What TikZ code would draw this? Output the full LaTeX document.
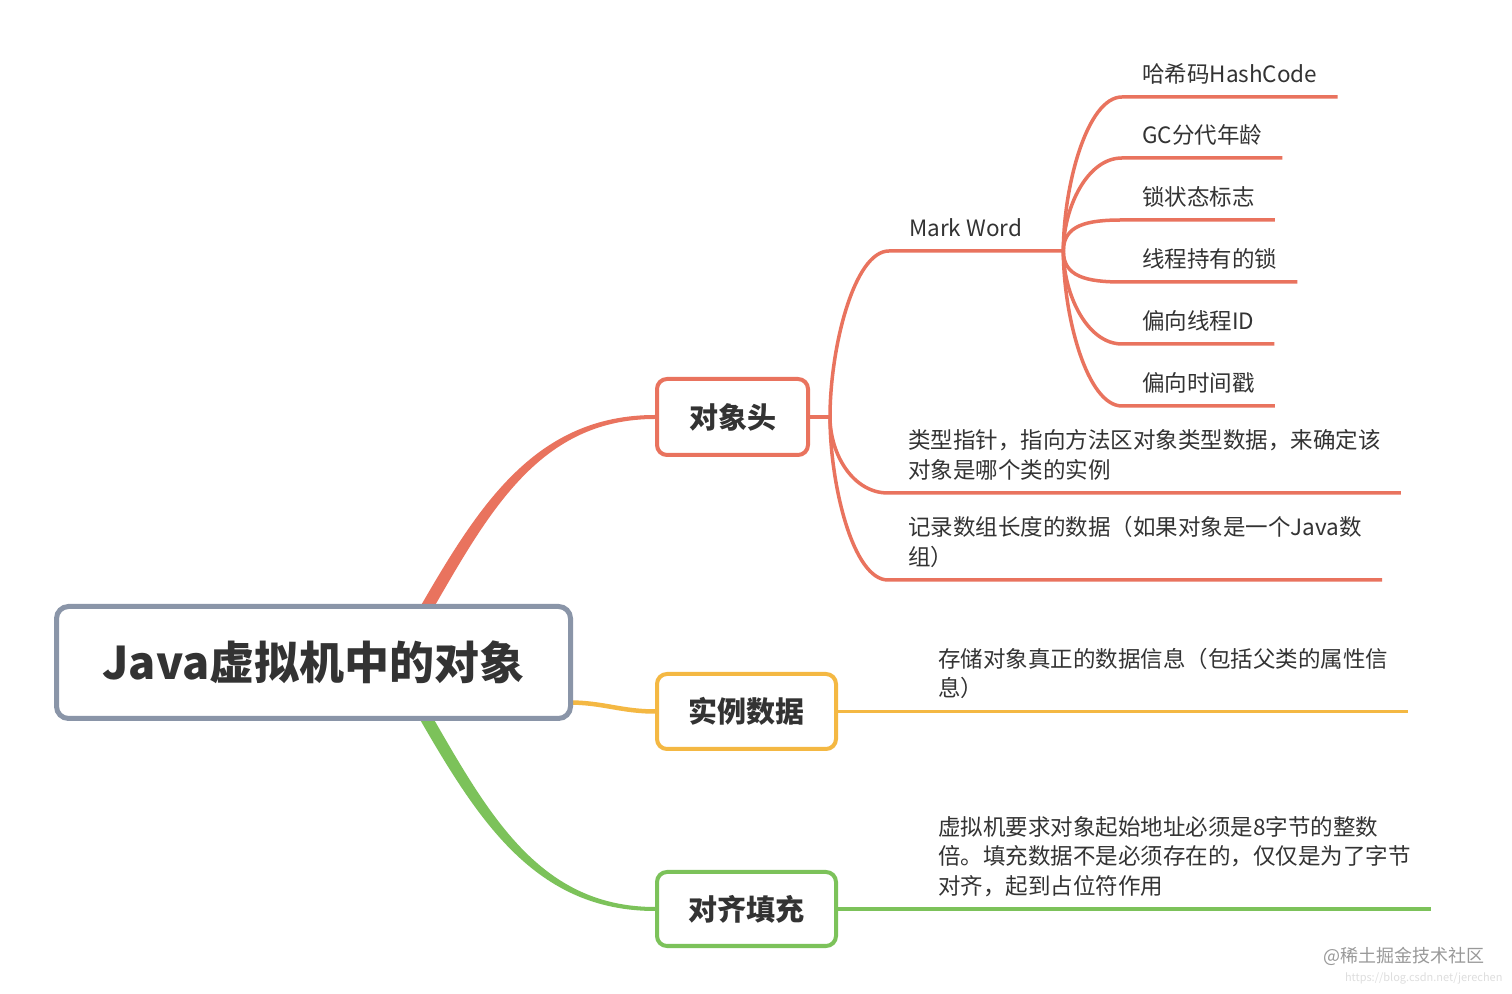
\documentclass[tikz,border=0pt]{standalone}
\usepackage{fontspec}
\setmainfont{Noto Sans CJK SC}
\definecolor{mmorange}{HTML}{E9735E}
\definecolor{mmyellow}{HTML}{F4B843}
\definecolor{mmgreen}{HTML}{7CC25A}
\definecolor{mmgray}{HTML}{8A95A8}
\definecolor{mmtext}{HTML}{333333}
\usetikzlibrary{positioning,backgrounds}

\begin{document}
\begin{tikzpicture}[
  x=1pt, y=1pt,
  topic/.style={draw=#1, fill=white, line width=4pt, rounded corners=10pt,
    font=\fontsize{29}{34}\selectfont\bfseries, text=mmtext,
    minimum height=75pt},
  leaf/.style={anchor=south west, align=left, inner xsep=20pt, inner ysep=10.5pt,
    text depth=4pt, font=\fontsize{22.5}{29.5}\selectfont, text=mmtext},
  sub/.style={draw=#1, line width=3.5pt},
  fan/.style={in distance=35pt}
]
  \useasboundingbox (0,0) rectangle (1512,993);

  % Root and main topics
  \node[draw=mmgray, fill=white, line width=5pt, rounded corners=12pt,
    minimum width=514pt, minimum height=112pt,
    font=\fontsize{45}{50}\selectfont\bfseries, text=mmtext] (root)
    at (313.5,330.5) {Java虚拟机中的对象};
  \node[topic=mmorange, minimum width=151pt, minimum height=76pt] (head)
    at (732.5,576) {对象头};
  \node[topic=mmyellow, minimum width=179pt] (inst) at (746.5,281.5) {实例数据};
  \node[topic=mmgreen, minimum width=179pt, minimum height=74pt] (pad)
    at (746.5,84) {对齐填充};

  % Object header
  \coordinate (hfan) at ([xshift=20pt]head.east);
  \node[leaf] (mark) at (889,742) {Mark Word};
  \coordinate (mfan) at ([xshift=21pt]mark.south east);
  \node[leaf] (klass) at (888,500)
    {类型指针，指向方法区对象类型数据，来确定该\\对象是哪个类的实例};
  \node[leaf] (arr) at (888,413) {记录数组长度的数据（如果对象是一个Java数\\组）};

  % Mark Word contents
  \node[leaf] (hash) at (1122,896) {哈希码HashCode};
  \node[leaf] (gc) at (1122,835) {GC分代年龄};
  \node[leaf] (lock) at (1122,773) {锁状态标志};
  \node[leaf] (own) at (1122,711) {线程持有的锁};
  \node[leaf] (bid) at (1122,649) {偏向线程ID};
  \node[leaf] (bts) at (1122,587) {偏向时间戳};

  % Instance data and padding
  \node[leaf] (data) at ([xshift=80pt]inst.east)
    {存储对象真正的数据信息（包括父类的属性信\\息）};
  \node[leaf] (padt) at ([xshift=80pt]pad.east)
    {虚拟机要求对象起始地址必须是8字节的整数\\倍。填充数据不是必须存在的，仅仅是为了字节\\对齐，起到占位符作用};

  % Watermark
  \node[font=\fontsize{18}{20}\selectfont, text=black!40, anchor=east] (wm)
    at (1488,37) {@稀土掘金技术社区};
  \node[font=\fontsize{11}{12}\selectfont, text=black!13, anchor=east] (url)
    at (1506,15) {https://blog.csdn.net/jerechen};

  \begin{scope}[on background layer]
    \fill[white] (0,0) rectangle (1512,993);

    % Branches from the root (tapered)
    \coordinate (hdtop) at ([xshift=113pt,yshift=-4pt]root.north);
    \coordinate (grbot) at ([xshift=112pt,yshift=4pt]root.south);
    \fill[mmorange] ([xshift=-7pt]hdtop) to[out=60,in=180] ([yshift=2pt]head.west)
      -- ([yshift=-2pt]head.west) to[out=180,in=60] ([xshift=7pt]hdtop) -- cycle;
    \fill[mmgreen] ([xshift=-7pt]grbot) to[out=-60,in=180] ([yshift=-2pt]pad.west)
      -- ([yshift=2pt]pad.west) to[out=180,in=-60] ([xshift=7pt]grbot) -- cycle;
    \draw[mmyellow, line width=4.5pt] ([xshift=-4pt,yshift=-40pt]root.east)
      to[out=0,in=180] (inst.west);

    % Object header branches
    \draw[sub=mmorange] (head.east) -- (hfan);
    \draw[sub=mmorange, fan] (hfan) to[out=90,in=180] (mark.south west) -- (mfan);
    \draw[sub=mmorange, fan] (hfan) to[out=-90,in=180] (klass.south west) -- (klass.south east);
    \draw[sub=mmorange, fan] (hfan) to[out=-90,in=180] (arr.south west) -- (arr.south east);

    % Mark Word branches
    \draw[sub=mmorange, fan] (mfan) to[out=90,in=180] (hash.south west) -- (hash.south east);
    \draw[sub=mmorange, fan] (mfan) to[out=90,in=180] (gc.south west) -- (gc.south east);
    \draw[sub=mmorange, fan] (mfan) to[out=90,in=180] (lock.south west) -- (lock.south east);
    \draw[sub=mmorange, fan] (mfan) to[out=-90,in=180] (own.south west) -- (own.south east);
    \draw[sub=mmorange, fan] (mfan) to[out=-90,in=180] (bid.south west) -- (bid.south east);
    \draw[sub=mmorange, fan] (mfan) to[out=-90,in=180] (bts.south west) -- (bts.south east);

    % Instance data and padding lines
    \draw[sub=mmyellow] (inst.east) -- (data.south east);
    \draw[sub=mmgreen] (pad.east) -- (padt.south east);
  \end{scope}
\end{tikzpicture}
\end{document}
